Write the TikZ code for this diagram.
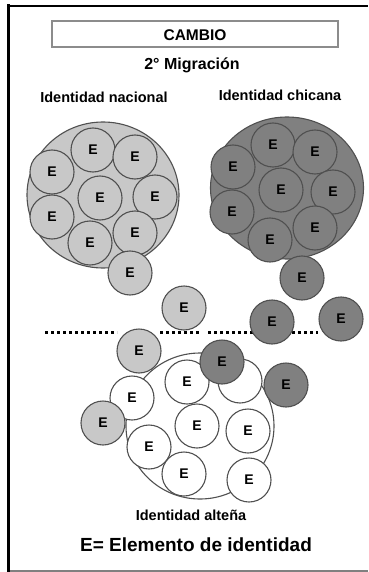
\documentclass[tikz,border=0pt]{standalone}
\usepackage{fontspec}
\setmainfont{Liberation Sans}
\usetikzlibrary{shapes.geometric}
\definecolor{lightfill}{RGB}{200,200,200}
\definecolor{darkfill}{RGB}{128,128,128}
\definecolor{edgegray}{RGB}{80,80,80}
\definecolor{boxgray}{RGB}{140,140,140}
\begin{document}
\begin{tikzpicture}[x=1pt,y=-1pt,
  elem/.style={circle,draw=edgegray,line width=1.1pt,minimum size=44pt,inner sep=0pt,
    font=\fontsize{14}{16}\selectfont\bfseries},
  lc/.style={elem,fill=lightfill},
  dc/.style={elem,fill=darkfill},
  wc/.style={elem,fill=white},
  bigc/.style={ellipse,draw=edgegray,line width=1.1pt,inner sep=0pt},
  lbl/.style={font=\fontsize{14.5}{16}\selectfont\bfseries,inner sep=0pt},
  dots/.style={line width=3pt,dash pattern=on 3pt off 3pt,black}
]
\useasboundingbox (0,0) rectangle (368,572);
% frame
\coordinate (tl) at (7,6);
\coordinate (tr) at (368,6);
\coordinate (bl) at (8.5,572);
\coordinate (blg) at (10,571);
\coordinate (brg) at (368,571);
\coordinate (tlv) at (8.5,4.5);
\draw[line width=2.5pt] (tl) -- (tr);
\draw[line width=3pt] (tlv) -- (bl);
\draw[line width=1.5pt,gray] (blg) -- (brg);

% title
\node[draw=boxgray,line width=1.5pt,minimum width=286pt,minimum height=26pt,inner sep=0pt] (title) at (195,34) {};
\node[inner sep=0pt,font=\fontsize{15.5}{17}\selectfont\bfseries] (cambio) at (195,35) {CAMBIO};
\node[lbl,font=\fontsize{16}{18}\selectfont\bfseries] (mig) at (192,65) {2° Migración};
\node[lbl] (lnac) at (104,97) {Identidad nacional};
\node[lbl] (lchi) at (280,95) {Identidad chicana};

% dotted border line
\coordinate (d1a) at (45,332); \coordinate (d1b) at (117,332);
\coordinate (d2a) at (160,332); \coordinate (d2b) at (200,332);
\coordinate (d3a) at (208,332); \coordinate (d3b) at (318,332);
\draw[dots] (d1a) -- (d1b);
\draw[dots] (d2a) -- (d2b);
\draw[dots] (d3a) -- (d3b);

% national identity
\node[bigc,fill=lightfill,minimum width=152pt,minimum height=146pt] (nat) at (103,195) {};
\node[lc] (n1) at (93,150) {E};
\node[lc] (n2) at (135,157) {E};
\node[lc] (n3) at (52,172) {E};
\node[lc] (n4) at (100,198) {E};
\node[lc] (n5) at (155,197) {E};
\node[lc] (n6) at (52,217) {E};
\node[lc] (n7) at (90,243) {E};
\node[lc] (n8) at (135,233) {E};
\node[lc] (n9) at (130,273) {E};

% chicano identity
\node[bigc,fill=darkfill,minimum width=153pt,minimum height=142pt] (chi) at (287,188) {};
\node[dc] (c1) at (273,145) {E};
\node[dc] (c2) at (315,152) {E};
\node[dc] (c3) at (233,167) {E};
\node[dc] (c4) at (281,190) {E};
\node[dc] (c5) at (333,192) {E};
\node[dc] (c6) at (232,212) {E};
\node[dc] (c7) at (270,240) {E};
\node[dc] (c8) at (315,228) {E};
\node[dc] (c9) at (302,278) {E};

% migrating elements
\node[lc] (m1) at (184,308) {E};
\node[dc] (m2) at (272,322) {E};
\node[dc] (m3) at (341,319) {E};

% altena identity
\node[bigc,fill=white,minimum width=148pt,minimum height=146pt] (alt) at (200,426) {};
\node[wc] (a1) at (187,382) {E};
\node[wc] (a2) at (240,381) {};
\node[wc] (a3) at (132,398) {E};
\node[wc] (a4) at (197,426) {E};
\node[wc] (a5) at (248,431) {E};
\node[wc] (a6) at (149,447) {E};
\node[wc] (a7) at (184,474) {E};
\node[wc] (a8) at (249,480) {E};
\node[lc] (m4) at (139,351) {E};
\node[dc] (m5) at (222,362) {E};
\node[dc] (m6) at (286,385) {E};
\node[lc] (m7) at (103,423) {E};

\node[lbl] (lalt) at (191,515) {Identidad alteña};
\node[lbl,font=\fontsize{19}{21}\selectfont\bfseries] (legend) at (196,545) {E= Elemento de identidad};
\end{tikzpicture}
\end{document}
